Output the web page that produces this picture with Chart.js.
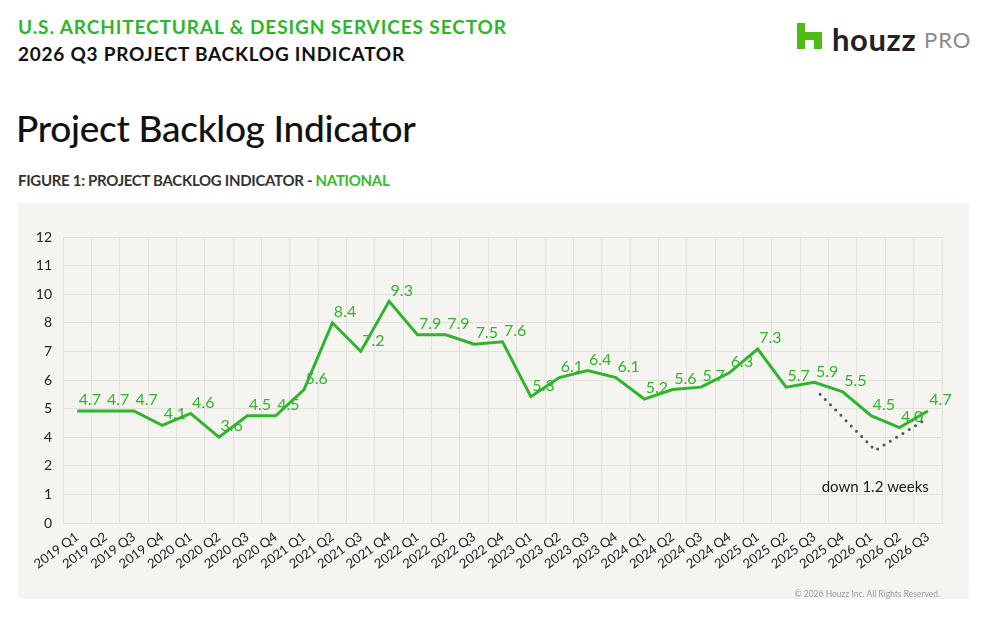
<!DOCTYPE html>
<html>
<head>
<meta charset="utf-8">
<script src="https://cdn.jsdelivr.net/npm/chart.js@4"></script>
<style>
  html, body { margin: 0; padding: 0; background: #fff; width: 990px; height: 618px; overflow: hidden; font-family: Lato, "Open Sans", sans-serif; }
  .t1 { position: absolute; left: 18px; top: 15px; font-size: 19px; font-weight: 700; letter-spacing: 0.9px; color: #2fb52b; white-space: nowrap; }
  .t2 { position: absolute; left: 18px; top: 42px; font-size: 19px; font-weight: 700; letter-spacing: 0.75px; color: #111; white-space: nowrap; }
  .title { position: absolute; left: 16px; top: 105px; font-size: 37px; font-weight: 500; color: #111; white-space: nowrap; letter-spacing: -0.3px; }
  .fig { position: absolute; left: 18px; top: 171px; font-size: 15px; font-weight: 700; color: #333; white-space: nowrap; letter-spacing: -0.3px; }
  .fig span { color: #3cb832; }
  .panel { position: absolute; left: 18px; top: 203px; width: 951px; height: 396px; background: #f5f4f0; }
  .logo { position: absolute; left: 797px; top: 20px; white-space: nowrap; }
  .logo svg { position: absolute; left: 0; top: 3px; }
  .logo .h { position: absolute; left: 35px; top: 0px; font-size: 31px; font-weight: 700; color: #222; letter-spacing: 0.6px; }
  .logo .p { position: absolute; left: 127px; top: 6px; font-size: 22px; font-weight: 400; color: #8a8a8a; letter-spacing: 1px; }
  .copy { position: absolute; left: 0; width: 940px; top: 589px; text-align: right; font-size: 8.5px; color: #9a9a9a; }
  #wrap { position: absolute; left: 18px; top: 203px; width: 951px; height: 396px; }
</style>
</head>
<body>
<div class="t1">U.S. ARCHITECTURAL &amp; DESIGN SERVICES SECTOR</div>
<div class="t2">2026 Q3 PROJECT BACKLOG INDICATOR</div>
<div class="logo">
  <svg width="25" height="26" viewBox="0 0 25 26"><path d="M0 0 H8 V9 H25 V26 H17 V17 H8 V26 H0 Z" fill="#4dbc15"/></svg>
  <span class="h">houzz</span><span class="p">PRO</span>
</div>
<div class="title">Project Backlog Indicator</div>
<div class="fig">FIGURE 1: PROJECT BACKLOG INDICATOR - <span>NATIONAL</span></div>
<div class="panel"></div>
<div id="wrap"><canvas id="c"></canvas></div>
<div class="copy">© 2026 Houzz Inc. All Rights Reserved.</div>
<script>
const categories = ["2019 Q1","2019 Q2","2019 Q3","2019 Q4","2020 Q1","2020 Q2","2020 Q3","2020 Q4",
  "2021 Q1","2021 Q2","2021 Q3","2021 Q4","2022 Q1","2022 Q2","2022 Q3","2022 Q4",
  "2023 Q1","2023 Q2","2023 Q3","2023 Q4","2024 Q1","2024 Q2","2024 Q3","2024 Q4",
  "2025 Q1","2025 Q2","2025 Q3","2025 Q4","2026 Q1","2026 Q2","2026 Q3"];
const backlog = [4.7,4.7,4.7,4.1,4.6,3.6,4.5,4.5,5.6,8.4,7.2,9.3,7.9,7.9,7.5,7.6,
  5.3,6.1,6.4,6.1,5.2,5.6,5.7,6.3,7.3,5.7,5.9,5.5,4.5,4.0,4.7];
const trendX = [26.2, 28.15, 30.0];
const trendY = [5.4, 3.05, 4.4];
const annotationText = "down 1.2 weeks";
const annotationPos = { x: 30, y: 1.3 };
const yMin = 0, yMax = 12, yStep = 1.2;

const GREEN = "#2fb52b";

const labelPlugin = {
  id: "labels",
  afterDatasetsDraw(chart) {
    const ctx = chart.ctx;
    const meta = chart.getDatasetMeta(0);
    ctx.save();
    ctx.font = "16px Lato";
    ctx.fillStyle = GREEN;
    ctx.textAlign = "left";
    ctx.textBaseline = "bottom";
    meta.data.forEach((pt, i) => {
      ctx.fillText(backlog[i].toFixed(1), pt.x + 1.5, pt.y - 3);
    });
    const xs = chart.scales.x2, ys = chart.scales.y;
    ctx.font = "15px Lato";
    ctx.fillStyle = "#1a1a1a";
    ctx.textAlign = "right";
    ctx.textBaseline = "alphabetic";
    ctx.fillText(annotationText, xs.getPixelForValue(annotationPos.x) + 1, ys.getPixelForValue(annotationPos.y));
    ctx.restore();
  }
};

new Chart(document.getElementById("c"), {
  type: "line",
  data: {
    labels: categories,
    datasets: [
      {
        data: backlog,
        borderColor: GREEN,
        borderWidth: 3,
        pointRadius: 0,
        tension: 0,
        fill: false,
        xAxisID: "x",
        order: 1
      },
      {
        data: trendX.map((x, i) => ({ x: x, y: trendY[i] })),
        borderColor: "#555",
        borderWidth: 3,
        borderDash: [0, 7.4],
        borderCapStyle: "round",
        pointRadius: 0,
        tension: 0,
        fill: false,
        xAxisID: "x2",
        order: 2
      }
    ]
  },
  options: {
    responsive: true,
    maintainAspectRatio: false,
    animation: false,
    layout: { padding: { left: 0, right: 27, top: 34, bottom: 0 } },
    plugins: { legend: { display: false }, tooltip: { enabled: false } },
    scales: {
      x: {
        type: "category",
        offset: true,
        grid: { offset: true, color: "#e3e1dc", lineWidth: 1, drawTicks: false },
        border: { display: true, color: "#e3e1dc" },
        ticks: { color: "#222", font: { family: "Lato", size: 13 }, minRotation: 36, maxRotation: 36, autoSkip: false, padding: 6 },
        afterFit(s) { s.height = 76; }
      },
      x2: {
        type: "linear",
        display: false,
        min: -0.5,
        max: categories.length - 0.5
      },
      y: {
        min: yMin, max: yMax,
        ticks: { stepSize: yStep, color: "#222", font: { family: "Lato", size: 14 }, padding: 11,
          callback: v => Math.round(v) },
        grid: { color: "#e3e1dc", lineWidth: 1, drawTicks: false },
        border: { display: true, color: "#e3e1dc" },
        afterFit(s) { s.width = 45; }
      }
    }
  },
  plugins: [labelPlugin]
});
</script>
</body>
</html>
